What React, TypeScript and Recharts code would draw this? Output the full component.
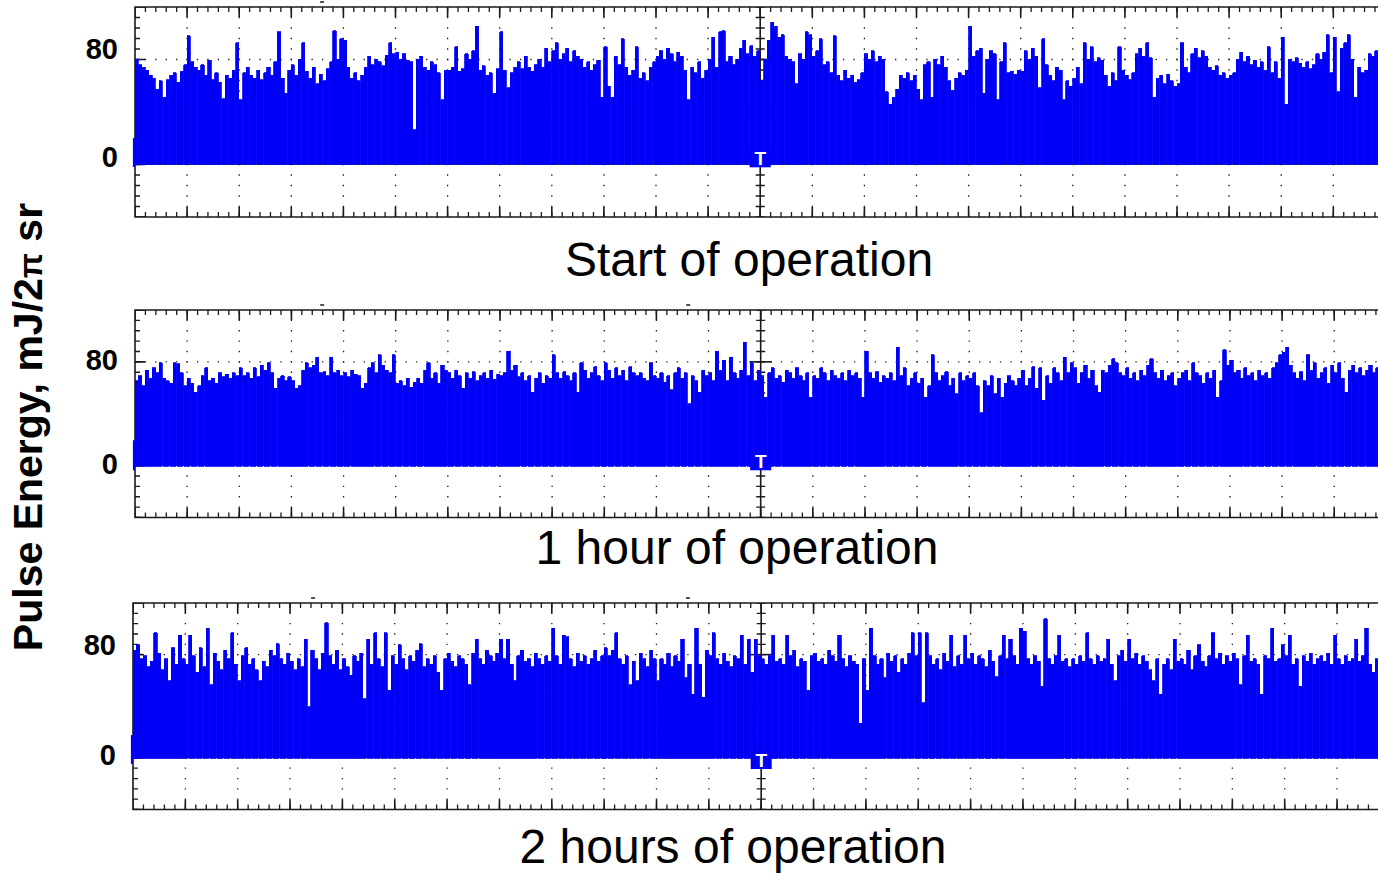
import React from 'react';
import { ComposedChart, Bar, XAxis, YAxis, ReferenceLine, ReferenceArea } from 'recharts';

const FONT = '"Liberation Sans", Arial, Helvetica, sans-serif';
const BLUE = '#0000f6';
const INK = '#1a1a1a';

// Peak pulse energy per trace column (mJ/2π sr), 15 columns per horizontal division, 24 divisions
const START_OF_OPERATION = [
  72, 68, 66, 64, 60, 58, 50, 56, 44, 57, 60, 62, 55, 63, 68,
  89, 70, 66, 64, 68, 60, 71, 57, 62, 55, 43, 60, 58, 64, 84,
  42, 62, 66, 60, 58, 64, 57, 62, 66, 60, 70, 92, 58, 47, 64,
  68, 60, 72, 84, 63, 58, 66, 54, 61, 56, 65, 70, 93, 72, 87,
  86, 66, 58, 62, 56, 60, 66, 74, 68, 72, 70, 67, 75, 84, 76,
  77, 72, 76, 71, 70, 20, 72, 74, 66, 64, 70, 68, 62, 42, 64,
  64, 66, 81, 63, 65, 76, 72, 78, 96, 64, 67, 60, 62, 47, 65,
  92, 64, 51, 62, 66, 70, 65, 74, 66, 63, 68, 72, 66, 80, 70,
  78, 84, 72, 76, 80, 70, 78, 74, 72, 66, 70, 64, 68, 71, 44,
  81, 52, 44, 74, 68, 87, 66, 60, 64, 81, 58, 62, 56, 66, 70,
  74, 78, 72, 80, 76, 70, 77, 74, 64, 42, 66, 62, 70, 58, 64,
  72, 88, 66, 92, 93, 70, 74, 68, 72, 80, 86, 76, 82, 74, 78,
  56, 72, 86, 99, 96, 88, 90, 74, 72, 70, 54, 76, 72, 92, 90,
  74, 78, 87, 68, 70, 62, 89, 60, 56, 64, 58, 60, 55, 57, 62,
  76, 72, 78, 70, 74, 72, 48, 39, 44, 50, 60, 58, 62, 56, 60,
  50, 42, 68, 70, 44, 72, 68, 74, 66, 56, 49, 58, 62, 60, 64,
  96, 74, 78, 80, 47, 72, 78, 76, 42, 70, 84, 62, 63, 61, 64,
  63, 78, 72, 80, 74, 51, 87, 68, 60, 56, 66, 64, 42, 56, 52,
  58, 66, 54, 84, 72, 81, 70, 73, 71, 60, 52, 62, 56, 81, 64,
  60, 57, 62, 76, 80, 74, 84, 73, 44, 58, 60, 54, 61, 56, 52,
  54, 84, 66, 62, 76, 80, 73, 78, 74, 66, 64, 67, 60, 62, 58,
  60, 62, 72, 77, 70, 74, 68, 71, 66, 70, 64, 81, 62, 70, 58,
  88, 39, 72, 70, 73, 69, 66, 70, 65, 68, 76, 72, 77, 90, 62,
  88, 48, 80, 84, 90, 72, 44, 66, 62, 64, 76, 74, 78, 92, 70,
];

const ONE_HOUR = [
  64, 68, 60, 72, 66, 74, 70, 78, 66, 64, 62, 78, 77, 70, 60,
  66, 62, 55, 60, 68, 74, 64, 66, 62, 70, 67, 69, 66, 70, 68,
  74, 68, 70, 66, 74, 67, 76, 72, 78, 70, 58, 66, 68, 64, 67,
  64, 58, 60, 72, 78, 74, 76, 82, 70, 71, 68, 82, 70, 72, 68,
  70, 67, 72, 69, 68, 58, 62, 74, 78, 70, 84, 76, 72, 70, 84,
  62, 64, 60, 66, 59, 63, 66, 62, 72, 78, 66, 70, 62, 76, 72,
  70, 66, 72, 68, 58, 70, 66, 71, 64, 68, 70, 66, 72, 65, 69,
  68, 70, 87, 72, 76, 67, 70, 64, 68, 55, 66, 70, 62, 68, 66,
  84, 70, 66, 71, 68, 64, 70, 55, 78, 72, 66, 70, 75, 68, 64,
  78, 72, 66, 74, 68, 72, 64, 75, 70, 68, 70, 66, 64, 78, 68,
  66, 70, 63, 68, 57, 70, 74, 66, 70, 46, 68, 64, 55, 72, 68,
  70, 64, 87, 72, 80, 64, 82, 70, 66, 72, 94, 68, 78, 64, 72,
  68, 51, 70, 74, 66, 68, 63, 72, 70, 66, 74, 68, 64, 70, 51,
  68, 66, 74, 70, 64, 72, 68, 66, 70, 64, 72, 68, 70, 66, 51,
  87, 70, 66, 71, 63, 68, 66, 70, 64, 90, 68, 74, 60, 66, 70,
  62, 66, 51, 60, 84, 70, 64, 68, 71, 60, 66, 54, 70, 64, 68,
  66, 70, 60, 39, 64, 60, 68, 54, 66, 51, 62, 68, 64, 60, 66,
  72, 60, 66, 75, 58, 74, 49, 68, 62, 74, 70, 64, 82, 70, 78,
  74, 62, 70, 76, 66, 72, 60, 55, 72, 70, 76, 81, 78, 70, 68,
  74, 66, 70, 64, 72, 68, 76, 81, 70, 66, 72, 64, 68, 70, 60,
  66, 70, 72, 64, 78, 70, 68, 62, 70, 66, 72, 51, 64, 88, 76,
  80, 70, 72, 66, 74, 68, 70, 64, 72, 68, 70, 66, 74, 78, 84,
  86, 90, 76, 70, 66, 71, 64, 84, 72, 78, 66, 70, 74, 62, 76,
  70, 78, 66, 55, 72, 76, 70, 74, 68, 72, 76, 70, 74, 72, 70,
];

const TWO_HOURS = [
  76, 80, 70, 72, 64, 68, 89, 74, 62, 70, 54, 78, 66, 87, 70,
  66, 87, 72, 60, 78, 64, 92, 51, 74, 68, 62, 76, 70, 89, 66,
  54, 72, 78, 66, 70, 62, 54, 68, 64, 76, 72, 81, 70, 66, 74,
  68, 62, 70, 64, 84, 35, 76, 70, 62, 74, 96, 72, 66, 76, 62,
  70, 64, 58, 72, 68, 74, 41, 84, 66, 89, 70, 64, 89, 47, 72,
  66, 80, 70, 62, 72, 68, 76, 81, 64, 70, 66, 72, 60, 47, 70,
  74, 68, 64, 72, 70, 66, 51, 74, 84, 70, 66, 76, 72, 68, 74,
  84, 70, 84, 66, 54, 72, 76, 68, 70, 64, 74, 70, 66, 72, 68,
  92, 72, 66, 87, 86, 70, 64, 74, 68, 72, 66, 70, 76, 68, 72,
  78, 72, 76, 89, 70, 66, 72, 51, 68, 54, 74, 70, 64, 76, 70,
  54, 70, 66, 74, 64, 72, 68, 84, 56, 66, 44, 92, 66, 42, 76,
  72, 89, 70, 66, 74, 68, 64, 72, 70, 87, 66, 84, 60, 84, 72,
  70, 66, 72, 87, 68, 70, 66, 87, 72, 76, 64, 70, 68, 47, 72,
  74, 68, 70, 66, 76, 72, 68, 87, 70, 64, 72, 68, 66, 23, 70,
  47, 92, 72, 66, 70, 56, 74, 68, 72, 60, 70, 66, 74, 89, 72,
  89, 38, 89, 72, 66, 70, 62, 74, 68, 87, 64, 72, 66, 87, 70,
  74, 66, 72, 70, 64, 76, 68, 57, 72, 87, 70, 84, 72, 66, 92,
  90, 70, 66, 72, 68, 50, 99, 70, 66, 72, 87, 68, 70, 64, 70,
  66, 72, 68, 89, 70, 66, 72, 68, 70, 84, 66, 54, 72, 76, 68,
  84, 70, 74, 66, 72, 68, 62, 54, 70, 44, 66, 70, 62, 84, 68,
  70, 66, 76, 62, 72, 80, 68, 64, 72, 89, 70, 74, 66, 72, 68,
  74, 70, 51, 72, 87, 68, 70, 66, 44, 72, 70, 92, 68, 70, 80,
  72, 87, 66, 70, 50, 72, 68, 74, 66, 70, 72, 68, 74, 66, 87,
  70, 66, 72, 68, 70, 84, 68, 72, 92, 66, 60, 70, 84, 64, 62,
];

const TITLES = ['Start of operation', '1 hour of operation', '2 hours of operation'];
const Y_TICKS = [0, 80];
// lower edge of each trace (down to the zero line of the screen)
const FLOORS = [-5.2, -2.2, -2.4];

// screen layout of the three scope panels
const PANELS = [
  { data: START_OF_OPERATION, floor: FLOORS[0], title: TITLES[0], top: 7, height: 210, left: 135, div: 52.1,
    domain: [-44, 110.3], trigger: [5.6, -7.5], ground: [14, -7.3], marks: [3.59], titleX: 749, titleTop: 236 },
  { data: ONE_HOUR, floor: FLOORS[1], title: TITLES[1], top: 310, height: 207.5, left: 135, div: 52.14,
    domain: [-42, 118.8], trigger: [8.8, -5.4], ground: [17.9, -5.4], marks: [3.59, 10.61], titleX: 737, titleTop: 524 },
  { data: TWO_HOURS, floor: FLOORS[2], title: TITLES[2], top: 603, height: 206.5, left: 133, div: 52.35,
    domain: [-39.6, 110.5], trigger: [2.4, -10.2], ground: [14.5, -6.5], marks: [3.44, 10.6], titleX: 733, titleTop: 823 },
];

const CHART_W = 1400;
const PAD = 10;
const ROWS = 20; // vertical graticule steps
const COLS = 24; // horizontal divisions
const PER_DIV = 15; // trace columns per division

type Panel = (typeof PANELS)[number];

// graticule drawn as reference segments in division units
const graticule = (ux: number, uy: number) => {
  const out: React.ReactNode[] = [];
  const seg = (key: string, x1: number, y1: number, x2: number, y2: number, props: any) =>
    out.push(
      <ReferenceLine key={key} segment={[{ x: x1, y: y1 }, { x: x2, y: y2 }]} stroke={INK} {...props} />
    );
  const dots = (step: number) => ({ strokeWidth: 1.3, strokeDasharray: `1.3 ${step - 1.3}`, strokeDashoffset: 0.65 });

  for (let k = 1; k < COLS; k++) if (k !== COLS / 2) seg(`col${k}`, k, 0, k, ROWS, dots(uy));
  seg('row15', 0, 15, COLS, 15, dots(ux / 5));
  seg('row5', 0, 5, COLS, 5, { strokeWidth: 1, stroke: '#3a3a3a' });

  // centre axis with its ticks
  seg('cv', 12, 0, 12, ROWS, { strokeWidth: 1.6 });
  seg('cvt', 12, 0, 12, ROWS, { strokeWidth: 9, strokeDasharray: `1.3 ${uy - 1.3}`, strokeDashoffset: 0.65 });
  [5, 10, 15].forEach((r) => seg(`ch${r}`, 12 - 11 / ux, r, 12 + 11 / ux, r, { strokeWidth: 1.6 }));

  // frame ticks: top, bottom, left
  const minorX = { strokeWidth: 5, strokeDasharray: `1.3 ${ux / 5 - 1.3}`, strokeDashoffset: 0.65 };
  const majorX = { strokeWidth: 10, strokeDasharray: `1.6 ${ux - 1.6}`, strokeDashoffset: 0.8 };
  seg('tmin', 0, ROWS - 2.5 / uy, COLS, ROWS - 2.5 / uy, minorX);
  seg('tmaj', 0, ROWS - 5 / uy, COLS, ROWS - 5 / uy, majorX);
  seg('bmin', 0, 2.5 / uy, COLS, 2.5 / uy, minorX);
  seg('bmaj', 0, 5 / uy, COLS, 5 / uy, majorX);
  seg('lmin', 2.5 / ux, 0, 2.5 / ux, ROWS, { strokeWidth: 5, strokeDasharray: `1.3 ${uy - 1.3}`, strokeDashoffset: 0.65 });
  seg('lmaj', 5 / ux, 0, 5 / ux, ROWS, { strokeWidth: 10, strokeDasharray: `1.6 ${5 * uy - 1.6}`, strokeDashoffset: 0.8 });
  return out;
};

// scope screen behind the trace: dotted graticule, frame and tick marks
const ScreenLayer = ({ p }: { p: Panel }) => {
  const ux = p.div;
  const uy = p.height / ROWS;
  const right = CHART_W - p.left - COLS * ux;
  const rows = [{ x: 0, y: 0 }, { x: COLS, y: ROWS }];
  return (
    <ComposedChart width={CHART_W} height={p.height + 2 * PAD} data={rows}
      margin={{ top: PAD, right, bottom: PAD, left: p.left }}>
      <XAxis dataKey="x" type="number" domain={[0, COLS]} allowDataOverflow hide />
      <YAxis dataKey="y" type="number" domain={[0, ROWS]} allowDataOverflow hide width={0} />
      {graticule(ux, uy)}
      <ReferenceArea x1={0} x2={COLS} y1={0} y2={ROWS} fill="none" stroke={INK} strokeWidth={1.6}
        ifOverflow="visible" />
      {p.marks.map((m) => (
        <ReferenceLine key={`m${m}`} ifOverflow="visible"
          segment={[{ x: m - 2 / ux, y: ROWS + 5 / uy }, { x: m + 2 / ux, y: ROWS + 5 / uy }]}
          stroke={INK} strokeWidth={1.5} />
      ))}
    </ComposedChart>
  );
};

// the pulse-energy trace with the zero marker and trigger tag
const TraceLayer = ({ p }: { p: Panel }) => {
  const ux = p.div;
  const rows = p.data.map((v, i) => ({ x: (i + 0.5) / PER_DIV, range: [p.floor, v] }));
  const right = CHART_W - p.left - COLS * ux;
  return (
    <ComposedChart width={CHART_W} height={p.height + 2 * PAD} data={rows}
      margin={{ top: PAD, right, bottom: PAD, left: 0 }}>
      <XAxis dataKey="x" type="number" domain={[0, COLS]} allowDataOverflow hide />
      <YAxis type="number" domain={p.domain} allowDataOverflow ticks={Y_TICKS} interval={0}
        width={p.left} tickSize={0} tickMargin={17} axisLine={false} tickLine={false}
        tick={{ fill: '#000', fontSize: 29, fontWeight: 700, fontFamily: FONT }} />
      <Bar dataKey="range" fill={BLUE} stroke={BLUE} strokeWidth={0.8} barSize={ux / PER_DIV + 1.2}
        shapeRendering="crispEdges" isAnimationActive={false} />
      <ReferenceLine ifOverflow="visible"
        segment={[{ x: -1 / ux, y: p.ground[0] }, { x: -1 / ux, y: p.ground[1] }]}
        stroke={BLUE} strokeWidth={2.2} />
      <ReferenceArea x1={12 - 10.5 / ux} x2={12 + 10.5 / ux} y1={p.trigger[1]} y2={p.trigger[0]}
        fill={BLUE} fillOpacity={1} stroke="none"
        label={{ value: 'T', position: 'center', fill: '#fff', fontSize: 19, fontWeight: 700, fontFamily: FONT }} />
    </ComposedChart>
  );
};

const ScopePanel = ({ p }: { p: Panel }) => (
  <>
    <div style={{ position: 'absolute', left: 0, top: p.top - PAD }}>
      <ScreenLayer p={p} />
    </div>
    <div style={{ position: 'absolute', left: 0, top: p.top - PAD }}>
      <TraceLayer p={p} />
    </div>
  </>
);

export default function App() {
  return (
    <div style={{ position: 'absolute', left: 0, top: 0, width: 1378, height: 873, overflow: 'hidden',
      background: '#fff', fontFamily: FONT }}>
      {PANELS.map((p) => <ScopePanel key={p.title} p={p} />)}
      {PANELS.map((p) => (
        <div key={`t-${p.title}`} style={{ position: 'absolute', left: p.titleX, top: p.titleTop,
          transform: 'translateX(-50%)', fontSize: 48, lineHeight: '48px', whiteSpace: 'nowrap', color: '#000' }}>
          {p.title}
        </div>
      ))}
      <div style={{ position: 'absolute', left: 29, top: 427, transform: 'translate(-50%, -50%) rotate(-90deg)',
        fontSize: 41, lineHeight: '41px', fontWeight: 700, whiteSpace: 'nowrap', color: '#000' }}>
        Pulse Energy, mJ/2<span style={{ fontSize: '0.8em' }}>π</span> sr
      </div>
    </div>
  );
}
